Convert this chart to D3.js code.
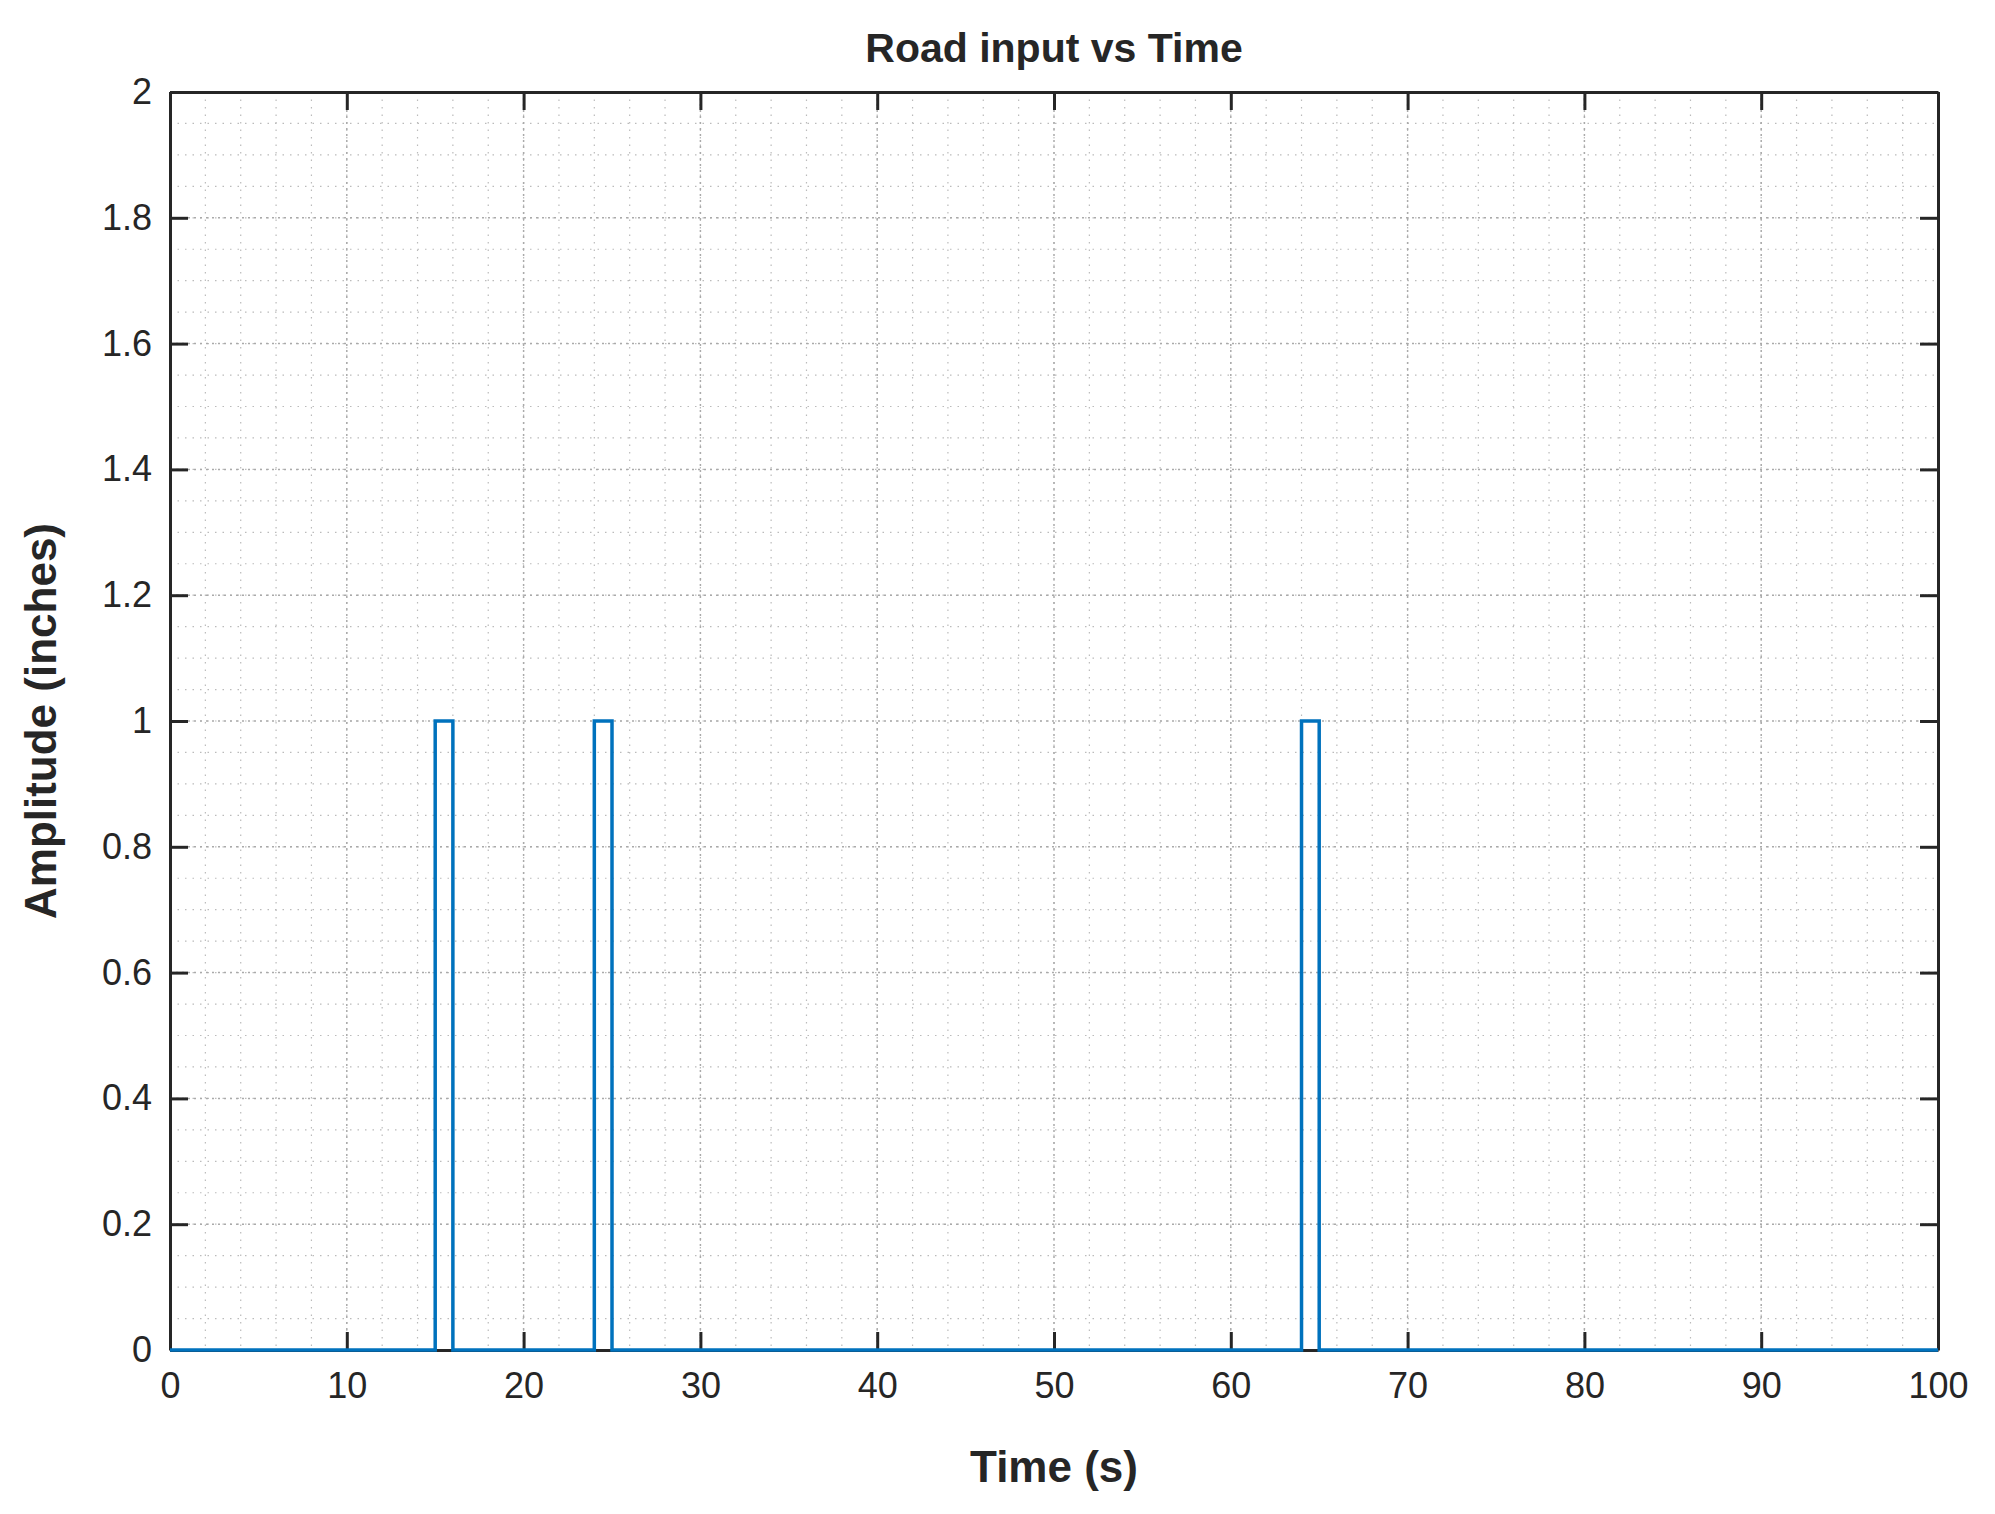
<html>
<head>
<script src="https://d3js.org/d3.v7.min.js"></script>
<style>
  body { margin: 0; background: #fff; }
  text { font-family: Arial, "Liberation Sans", sans-serif; fill: #262626; }
</style>
</head>
<body>
<script>
// step signal: time (s) and amplitude (inches)
var times = [0, 15, 15, 16, 16, 24, 24, 25, 25, 64, 64, 65, 65, 100];
var amps  = [0, 0, 1, 1, 0, 0, 1, 1, 0, 0, 1, 1, 0, 0];
var xTicks = [0, 10, 20, 30, 40, 50, 60, 70, 80, 90, 100];
var yTicks = [0, 0.2, 0.4, 0.6, 0.8, 1, 1.2, 1.4, 1.6, 1.8, 2];

var W = 1995, H = 1514;
var m = {left: 170, right: 57, top: 92, bottom: 164};
var pw = W - m.left - m.right, ph = H - m.top - m.bottom;

var svg = d3.select("body").append("svg").attr("width", W).attr("height", H);
var g = svg.append("g").attr("transform", "translate(" + m.left + "," + m.top + ")");

var x = d3.scaleLinear().domain([0, 100]).range([0, pw]);
var y = d3.scaleLinear().domain([0, 2]).range([ph, 0]);

// minor grid
g.append("g").selectAll("line").data(d3.range(0, 100.01, 2)).enter().append("line")
  .attr("x1", d => x(d)).attr("x2", d => x(d)).attr("y1", 0).attr("y2", ph)
  .attr("stroke", "#bbb").attr("stroke-width", 1.2).attr("stroke-dasharray", "1.5,6");
g.append("g").selectAll("line").data(d3.range(0, 2.001, 0.05)).enter().append("line")
  .attr("y1", d => y(d)).attr("y2", d => y(d)).attr("x1", 0).attr("x2", pw)
  .attr("stroke", "#bbb").attr("stroke-width", 1.2).attr("stroke-dasharray", "1.5,6");
// major grid
g.append("g").selectAll("line").data(xTicks).enter().append("line")
  .attr("x1", d => x(d)).attr("x2", d => x(d)).attr("y1", 0).attr("y2", ph)
  .attr("stroke", "#aaa").attr("stroke-width", 1.5).attr("stroke-dasharray", "2,4");
g.append("g").selectAll("line").data(yTicks).enter().append("line")
  .attr("y1", d => y(d)).attr("y2", d => y(d)).attr("x1", 0).attr("x2", pw)
  .attr("stroke", "#aaa").attr("stroke-width", 1.5).attr("stroke-dasharray", "2,4");

// axes with inward ticks on all sides
function styleAxis(sel) {
  sel.select(".domain").attr("stroke", "#262626").attr("stroke-width", 3);
  sel.selectAll(".tick line").attr("stroke", "#262626").attr("stroke-width", 3);
  sel.selectAll("text").style("font-size", "36px").attr("fill", "#262626");
}
g.append("g").attr("transform", "translate(0," + ph + ")")
  .call(d3.axisBottom(x).tickValues(xTicks).tickSize(-18).tickPadding(22).tickSizeOuter(0))
  .call(styleAxis);
g.append("g")
  .call(d3.axisTop(x).tickValues(xTicks).tickSize(-18).tickSizeOuter(0).tickFormat(""))
  .call(styleAxis);
g.append("g")
  .call(d3.axisLeft(y).tickValues(yTicks).tickSize(-18).tickPadding(18).tickSizeOuter(0).tickFormat(d3.format("~g")))
  .call(styleAxis);
g.append("g").attr("transform", "translate(" + pw + ",0)")
  .call(d3.axisRight(y).tickValues(yTicks).tickSize(-18).tickSizeOuter(0).tickFormat(""))
  .call(styleAxis);

// signal
var pts = times.map((t, i) => [t, amps[i]]);
g.append("path").datum(pts)
  .attr("fill", "none").attr("stroke", "#0072BD").attr("stroke-width", 3.5)
  .attr("d", d3.line().x(d => x(d[0])).y(d => y(d[1])));

// labels
svg.append("text").attr("x", m.left + pw / 2).attr("y", 62).attr("text-anchor", "middle")
  .style("font-size", "41px").style("font-weight", "bold").text("Road input vs Time");
svg.append("text").attr("x", m.left + pw / 2).attr("y", 1482).attr("text-anchor", "middle")
  .style("font-size", "44px").style("font-weight", "bold").text("Time (s)");
svg.append("text").attr("transform", "translate(56," + (m.top + ph / 2) + ") rotate(-90)")
  .attr("text-anchor", "middle")
  .style("font-size", "44px").style("font-weight", "bold").text("Amplitude (inches)");
</script>
</body>
</html>
